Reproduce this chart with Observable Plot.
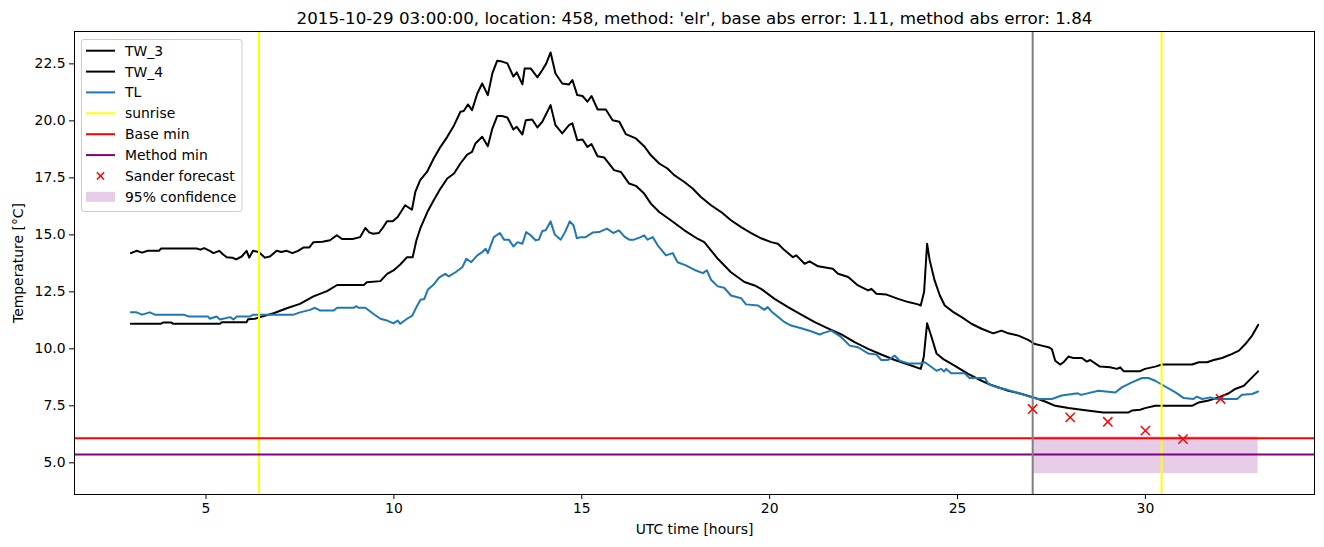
<!DOCTYPE html>
<html><head><meta charset="utf-8">
<script src="https://cdn.jsdelivr.net/npm/d3@7"></script>
<script src="https://cdn.jsdelivr.net/npm/@observablehq/plot@0.6"></script>
<style>
body{margin:0;background:#fff;font-family:"DejaVu Sans",sans-serif;}
#fig{position:relative;width:1324px;height:547px;}
#legend{position:absolute;left:0;top:0;pointer-events:none;}
</style></head><body><div id="fig"></div><script>
// ---- data ----
const titleText = "2015-10-29 03:00:00, location: 458, method: 'elr', base abs error: 1.11, method abs error: 1.84";
const xTicks = [5, 10, 15, 20, 25, 30];
const yTicks = [5, 7.5, 10, 12.5, 15, 17.5, 20, 22.5];

const tw3T = [3.0,3.15,3.3,3.45,3.6,3.75,3.8,4.0,4.4,4.75,4.85,4.95,5.1,5.2,5.35,5.45,5.55,5.7,5.8,5.95,6.08,6.15,6.25,6.4,6.57,6.7,6.88,7.0,7.15,7.3,7.45,7.6,7.75,7.86,8.1,8.3,8.48,8.62,8.9,9.1,9.24,9.35,9.45,9.6,9.7,9.82,9.97,10.1,10.3,10.48,10.57,10.7,10.88,11.06,11.24,11.42,11.6,11.77,11.86,11.97,12.08,12.22,12.35,12.5,12.62,12.75,12.88,13.02,13.18,13.27,13.42,13.48,13.64,13.82,13.95,14.05,14.17,14.3,14.48,14.66,14.75,14.88,15.02,15.15,15.26,15.42,15.64,15.82,16.0,16.17,16.44,16.66,16.84,17.06,17.28,17.46,17.73,17.95,18.17,18.44,18.71,18.97,19.24,19.51,19.77,20.04,20.22,20.4,20.62,20.71,20.93,21.06,21.29,21.68,21.82,22.09,22.35,22.62,22.71,22.84,23.11,23.42,23.69,23.95,24.02,24.11,24.19,24.26,24.39,24.53,24.66,24.89,25.11,25.37,25.64,25.95,26.17,26.35,26.62,26.88,27.06,27.24,27.42,27.51,27.6,27.73,27.82,27.95,28.08,28.31,28.44,28.53,28.79,29.06,29.24,29.33,29.42,29.86,29.99,30.26,30.44,31.24,31.42,31.64,31.82,32.04,32.31,32.49,32.66,32.84,33.0];
const tw3V = [14.2,14.3,14.22,14.3,14.3,14.3,14.4,14.4,14.4,14.4,14.35,14.42,14.3,14.2,14.3,14.15,14.02,14.0,13.92,14.05,14.3,14.0,14.3,14.25,14.0,14.05,14.3,14.25,14.3,14.2,14.3,14.45,14.45,14.68,14.7,14.76,14.98,14.82,14.82,14.9,15.3,15.1,15.05,15.08,15.3,15.6,15.6,15.78,16.3,16.1,16.88,17.4,17.76,18.35,18.86,19.3,19.8,20.4,20.43,20.72,20.47,21.2,21.64,21.13,22.08,22.64,22.6,22.52,21.94,22.13,21.6,22.3,22.3,21.91,22.23,22.5,23.0,22.08,21.64,21.6,21.79,21.13,21.09,20.84,21.09,20.5,20.5,20.03,19.96,19.42,19.23,18.89,18.49,18.13,17.91,17.62,17.32,17.03,16.66,16.3,16.0,15.64,15.34,15.08,14.85,14.68,14.61,14.32,14.02,14.1,13.73,13.84,13.62,13.51,13.29,13.15,12.78,12.56,12.63,12.42,12.38,12.19,12.05,11.95,11.9,12.49,14.61,13.88,13.0,12.34,11.9,11.61,11.39,11.1,10.88,10.68,10.8,10.68,10.58,10.39,10.21,10.14,10.07,9.99,9.48,9.31,9.41,9.66,9.6,9.6,9.44,9.51,9.22,9.19,9.12,9.19,9.02,9.02,9.12,9.22,9.31,9.31,9.41,9.41,9.51,9.6,9.78,9.92,10.21,10.58,11.05];

const tw4T = [3.0,3.8,3.85,4.08,4.12,5.37,5.42,6.08,6.12,6.3,6.44,6.8,7.15,7.5,7.86,8.22,8.49,9.2,9.28,9.64,9.82,9.99,10.17,10.35,10.5,10.6,10.7,10.89,11.06,11.24,11.42,11.6,11.77,11.95,12.08,12.17,12.35,12.5,12.62,12.75,12.88,13.02,13.18,13.27,13.42,13.51,13.68,13.82,13.95,14.17,14.3,14.48,14.66,14.75,14.88,15.02,15.15,15.26,15.42,15.6,15.86,16.04,16.26,16.44,16.66,16.84,17.06,17.37,17.73,18.08,18.26,18.62,18.97,19.33,19.6,19.77,20.13,20.49,20.84,21.2,21.55,21.91,22.26,22.62,22.97,23.33,23.69,24.02,24.1,24.19,24.31,24.44,24.61,24.92,25.28,25.64,25.82,26.35,26.71,27.02,27.33,27.6,27.95,28.35,28.88,29.55,29.64,29.86,29.99,30.26,31.24,31.42,31.68,31.95,32.22,32.39,32.62,32.8,33.0];
const tw4V = [11.1,11.1,11.15,11.15,11.1,11.1,11.17,11.17,11.3,11.32,11.39,11.56,11.78,11.97,12.3,12.53,12.8,12.8,12.92,12.97,13.29,13.44,13.7,14.02,14.02,14.76,15.27,16.0,16.52,17.03,17.47,17.69,18.13,18.52,18.64,19.01,19.3,18.89,19.66,20.21,20.21,20.15,19.62,19.74,19.4,20.03,20.06,19.71,19.96,20.69,19.81,19.45,19.81,19.89,19.15,19.18,18.86,18.98,18.45,18.39,17.84,17.76,17.25,17.15,16.81,16.37,16.0,15.64,15.2,14.83,14.68,13.95,13.36,12.93,12.78,12.63,12.19,11.83,11.5,11.17,10.9,10.63,10.29,10.0,9.75,9.51,9.31,9.12,9.63,11.12,10.51,9.8,9.56,9.26,8.9,8.6,8.46,8.16,8.02,7.87,7.69,7.5,7.4,7.32,7.21,7.21,7.29,7.33,7.4,7.5,7.5,7.65,7.73,7.87,8.05,8.24,8.38,8.68,9.01];

const tlT = [3.0,3.15,3.3,3.5,3.64,4.4,4.55,5.05,5.1,5.28,5.37,5.64,5.73,5.82,6.17,6.26,7.33,7.5,7.77,7.9,8.04,8.4,8.49,8.93,9.0,9.06,9.24,9.46,9.64,9.82,9.99,10.1,10.17,10.35,10.49,10.6,10.71,10.81,10.9,11.06,11.2,11.37,11.46,11.64,11.82,11.93,12.06,12.22,12.35,12.44,12.5,12.66,12.82,12.93,13.06,13.18,13.29,13.42,13.52,13.64,13.77,13.86,13.95,14.04,14.17,14.28,14.44,14.57,14.68,14.78,14.87,14.97,15.1,15.29,15.46,15.67,15.84,15.99,16.13,16.26,16.39,16.57,16.66,16.75,16.89,17.02,17.24,17.42,17.55,17.77,17.99,18.22,18.33,18.44,18.62,18.79,18.97,19.24,19.37,19.69,19.86,19.95,20.04,20.13,20.4,20.57,20.84,21.1,21.33,21.46,21.64,21.91,22.13,22.35,22.62,22.84,22.97,23.15,23.33,23.46,23.69,24.04,24.13,24.26,24.44,24.57,24.64,24.7,24.83,25.19,25.32,25.73,25.82,26.0,26.35,26.71,26.97,27.15,27.51,27.77,28.2,28.29,28.75,29.2,29.37,29.64,29.91,30.08,30.26,30.49,30.8,31.02,31.28,31.37,31.51,31.73,31.86,32.44,32.57,32.84,33.0];
const tlV = [11.6,11.6,11.5,11.6,11.5,11.5,11.42,11.42,11.32,11.42,11.29,11.39,11.29,11.42,11.42,11.5,11.5,11.6,11.71,11.8,11.68,11.68,11.8,11.8,11.87,11.8,11.8,11.53,11.32,11.24,11.12,11.24,11.1,11.32,11.46,11.83,12.15,12.19,12.59,12.82,13.12,13.29,13.18,13.36,13.58,13.95,13.8,14.1,14.24,14.39,14.2,14.9,15.08,14.79,14.79,14.49,14.68,14.61,15.12,14.98,14.76,14.79,15.17,15.2,15.59,15.02,14.79,15.17,15.59,15.42,14.85,14.9,14.9,15.1,15.12,15.27,15.08,15.2,14.93,14.79,14.79,14.9,14.98,14.79,14.9,14.54,14.1,14.2,13.8,13.66,13.47,13.32,13.44,13.03,12.74,12.68,12.34,12.22,11.95,11.9,11.71,11.83,11.65,11.53,11.17,11.02,10.9,10.77,10.63,10.71,10.8,10.51,10.14,10.07,9.8,9.75,9.51,9.51,9.7,9.48,9.36,9.36,9.41,9.26,9.04,9.12,9.0,9.12,8.93,8.93,8.72,8.72,8.46,8.34,8.19,8.02,7.87,7.8,7.8,7.95,8.05,7.98,8.16,8.08,8.31,8.53,8.72,8.72,8.6,8.38,8.09,7.84,7.8,7.9,7.8,7.87,7.8,7.8,7.99,8.02,8.13];

const sunriseT = [6.41, 30.43];
const forecastStartT = [27];
const baseMin = [6.08];
const methodMin = [5.36];
const sanderT = [27, 28, 29, 30, 31, 32];
const sanderV = [7.36, 6.99, 6.80, 6.41, 6.04, 7.80];
const confX = [27, 33];
const confLow = [4.53];
const confHigh = [6.14];

const legendLabels = ["TW_3", "TW_4", "TL", "sunrise", "Base min", "Method min", "Sander forecast", "95% confidence"];

// ---- tables ----
const tw3 = tw3T.map((t, i) => ({t, v: tw3V[i]}));
const tw4 = tw4T.map((t, i) => ({t, v: tw4V[i]}));
const tl = tlT.map((t, i) => ({t, v: tlV[i]}));
const sander = sanderT.map((t, i) => ({t, v: sanderV[i]}));
const conf = [{x1: confX[0], x2: confX[1], y1: confLow[0], y2: confHigh[0]}];

const chart = Plot.plot({
  width: 1324, height: 547,
  marginLeft: 74, marginRight: 10, marginTop: 31, marginBottom: 53,
  style: {fontFamily: "DejaVu Sans, sans-serif", fontSize: "13.9px", color: "black", background: "white", overflow: "visible"},
  x: {domain: [1.5, 34.5], ticks: xTicks, tickFormat: d => String(d), label: null, tickSize: 5, tickPadding: 4},
  y: {domain: [3.61, 23.92], ticks: yTicks, tickFormat: d => d.toFixed(1), label: null, tickSize: 5, tickPadding: 4},
  marks: [
    Plot.rect(conf, {x1: "x1", x2: "x2", y1: "y1", y2: "y2", fill: "purple", fillOpacity: 0.2}),
    Plot.line(tw3, {x: "t", y: "v", stroke: "black", strokeWidth: 2}),
    Plot.line(tw4, {x: "t", y: "v", stroke: "black", strokeWidth: 2}),
    Plot.line(tl, {x: "t", y: "v", stroke: "#1f77b4", strokeWidth: 2}),
    Plot.ruleX(sunriseT, {stroke: "yellow", strokeWidth: 2}),
    Plot.ruleY(baseMin, {stroke: "red", strokeWidth: 2}),
    Plot.ruleY(methodMin, {stroke: "purple", strokeWidth: 2}),
    Plot.ruleX(forecastStartT, {stroke: "gray", strokeWidth: 2}),
    Plot.dot(sander, {x: "t", y: "v", symbol: "times", r: 4.3, stroke: "red", strokeWidth: 1.5}),
    Plot.frame({stroke: "black", strokeWidth: 1}),
    Plot.text([titleText], {frameAnchor: "top", dy: -13, text: d => d, fontSize: 16.7, lineAnchor: "middle", textAnchor: "middle", fill: "black"}),
    Plot.text(["UTC time [hours]"], {frameAnchor: "bottom", dy: 35, text: d => d, fontSize: 13.9, lineAnchor: "middle", fill: "black"}),
    Plot.text(["Temperature [°C]"], {frameAnchor: "left", dx: -56, rotate: -90, text: d => d, fontSize: 13.9, lineAnchor: "middle", textAnchor: "middle", fill: "black"})
  ]
});
const fig = document.getElementById("fig");
fig.appendChild(chart);

// ---- legend overlay ----
const ns = "http://www.w3.org/2000/svg";
const lg = document.createElementNS(ns, "svg");
lg.setAttribute("id", "legend");
lg.setAttribute("width", 1324);
lg.setAttribute("height", 547);
const box = document.createElementNS(ns, "rect");
Object.entries({x: 81.5, y: 39.5, width: 160.5, height: 172, rx: 2.5, fill: "white", "fill-opacity": 0.8, stroke: "#cccccc", "stroke-width": 1}).forEach(([k, v]) => box.setAttribute(k, v));
lg.appendChild(box);
const rowY = [50.7, 71.6, 92.4, 113.3, 134.2, 155.1, 175.9, 196.8];
const lineColors = ["black", "black", "#1f77b4", "yellow", "red", "purple"];
legendLabels.forEach((lab, i) => {
  const y = rowY[i];
  if (i < 6) {
    const l = document.createElementNS(ns, "line");
    Object.entries({x1: 86, x2: 115, y1: y, y2: y, stroke: lineColors[i], "stroke-width": 2}).forEach(([k, v]) => l.setAttribute(k, v));
    lg.appendChild(l);
  } else if (i === 6) {
    const p = document.createElementNS(ns, "path");
    const c = 100.5, s = 3.6;
    p.setAttribute("d", `M${c - s},${y - s}L${c + s},${y + s}M${c - s},${y + s}L${c + s},${y - s}`);
    p.setAttribute("stroke", "red"); p.setAttribute("stroke-width", 1.5);
    lg.appendChild(p);
  } else {
    const r = document.createElementNS(ns, "rect");
    Object.entries({x: 86, y: y - 5, width: 29, height: 10, fill: "purple", "fill-opacity": 0.2}).forEach(([k, v]) => r.setAttribute(k, v));
    lg.appendChild(r);
  }
  const t = document.createElementNS(ns, "text");
  t.setAttribute("x", 125); t.setAttribute("y", y);
  t.setAttribute("dominant-baseline", "central");
  t.setAttribute("font-family", "DejaVu Sans, sans-serif");
  t.setAttribute("font-size", "13.9px");
  t.setAttribute("fill", "#000");
  t.textContent = lab;
  lg.appendChild(t);
});
fig.appendChild(lg);
</script></body></html>
